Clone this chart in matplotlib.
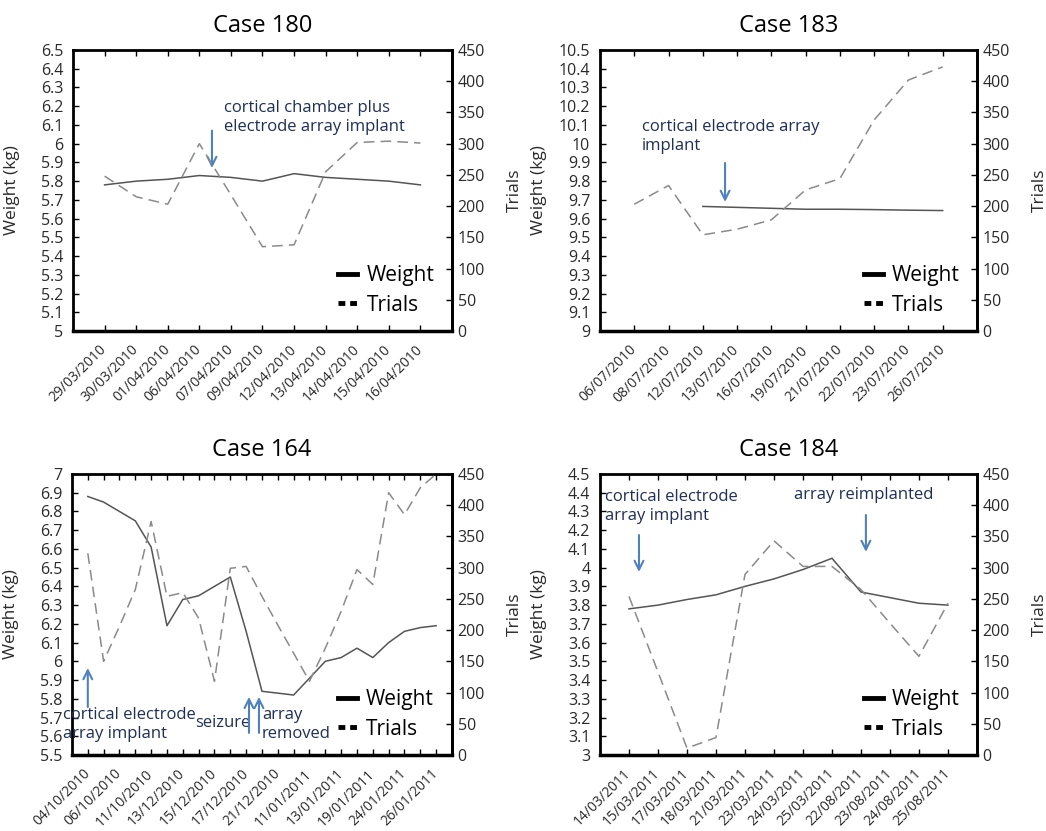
import numpy as np
import matplotlib
matplotlib.use("Agg")
import matplotlib.pyplot as plt
import matplotlib.transforms as mtransforms
from matplotlib.lines import Line2D

plt.rcParams['font.family'] = ['Open Sans', 'DejaVu Sans']

nan = np.nan

# Case 180
dates_180 = ['29/03/2010', '30/03/2010', '01/04/2010', '06/04/2010', '07/04/2010',
             '09/04/2010', '12/04/2010', '13/04/2010', '14/04/2010', '15/04/2010',
             '16/04/2010']
weight_180 = [5.78, 5.80, 5.81, 5.83, 5.82, 5.80, 5.84, 5.82, 5.81, 5.80, 5.78]
trials_180 = [248, 215, 203, 300, 218, 135, 138, 255, 302, 304, 301]

# Case 183
dates_183 = ['06/07/2010', '08/07/2010', '12/07/2010', '13/07/2010', '16/07/2010',
             '19/07/2010', '21/07/2010', '22/07/2010', '23/07/2010', '26/07/2010']
weight_183 = [nan, nan, 9.665, 9.66, 9.655, 9.65, 9.65, 9.648, 9.645, 9.643]
trials_183 = [203, 233, 154, 163, 178, 226, 244, 338, 402, 423]

# Case 164 (every other session date is labelled)
dates_164 = ['04/10/2010', '', '06/10/2010', '', '11/10/2010', '', '13/12/2010', '',
             '15/12/2010', '', '17/12/2010', '', '21/12/2010', '', '11/01/2011', '',
             '13/01/2011', '', '19/01/2011', '', '24/01/2011', '', '26/01/2011']
weight_164 = [6.88, 6.85, 6.80, 6.75, 6.61, 6.19, 6.33, 6.35, 6.40, 6.45, 6.16, 5.84,
              5.83, 5.82, 5.91, 6.00, 6.02, 6.07, 6.02, 6.10, 6.16, 6.18, 6.19]
trials_164 = [323, 150, 206, 265, 374, 254, 260, 219, 118, 299, 302, 254, 208, 163,
              118, 171, 230, 297, 273, 420, 385, 428, 450]

# Case 184
dates_184 = ['14/03/2011', '15/03/2011', '17/03/2011', '18/03/2011', '21/03/2011',
             '23/03/2011', '24/03/2011', '25/03/2011', '22/08/2011', '23/08/2011',
             '24/08/2011', '25/08/2011']
weight_184 = [3.78, 3.80, 3.83, 3.855, 3.90, 3.94, 3.99, 4.05, 3.87, 3.84, 3.81, 3.80]
trials_184 = [254, 133, 11, 28, 289, 343, 302, 302, 265, 211, 158, 243]

NOTE_COLOR = '#1f2f55'
ARROW_COLOR = '#4f81bd'
TEXT_COLOR = '#2a2a2a'


def plot_case(fig, rect, title, dates, weight, trials, ylim, notes, arrows):
    ax = fig.add_axes(rect)
    ax2 = ax.twinx()
    x = np.arange(len(dates))

    ax.plot(x, weight, color='#555555', lw=1.1, zorder=3)
    ax2.plot(x, trials, color='#8a8a8a', lw=1.1, dashes=(7, 4))

    ax.set_xlim(-1, len(dates))
    ax.set_ylim(*ylim)
    ax.set_yticks(np.round(np.arange(ylim[0], ylim[1] + 0.05, 0.1), 1))
    ax.set_yticklabels(['{:g}'.format(v) for v in ax.get_yticks()])
    ax2.set_ylim(0, 450)
    ax2.set_yticks(range(0, 451, 50))

    # rotated date labels sit a little to the left of their tick
    ax.set_xticks(x)
    ax.set_xticklabels(dates, rotation=45, ha='right', va='center',
                       rotation_mode='anchor', fontsize=10, color=TEXT_COLOR)
    shift = mtransforms.ScaledTranslation(-19 / 100, -9 / 100, fig.dpi_scale_trans)
    for lab in ax.get_xticklabels():
        lab.set_transform(lab.get_transform() + shift)

    ax.tick_params(axis='x', direction='in', length=4, width=1, top=True, pad=12)
    ax.tick_params(axis='y', direction='in', length=4, width=1, pad=7,
                   labelsize=11.5, labelcolor=TEXT_COLOR)
    ax2.tick_params(axis='y', direction='in', length=4, width=1, pad=4,
                    labelsize=11.5, labelcolor=TEXT_COLOR)

    for s in ax.spines.values():
        s.set_linewidth(2)
    ax.spines['bottom'].set_linewidth(2.5)
    for side in ['left', 'top', 'bottom']:
        ax2.spines[side].set_visible(False)
    ax2.spines['right'].set_linewidth(2)

    ax.set_ylabel('Weight (kg)', fontsize=12.5, color=TEXT_COLOR)
    ax.yaxis.set_label_coords(-0.14, 0.5)
    ax2.set_ylabel('Trials', fontsize=12.5, color=TEXT_COLOR)
    ax2.yaxis.set_label_coords(1.145, 0.5)
    ax.set_title(title, fontsize=17, pad=13)

    for text, tx, ty in notes:
        ax.text(tx, ty, text, color=NOTE_COLOR, fontsize=12, va='center',
                ha='left', linespacing=1.25, zorder=6, clip_on=False)
    for ax_x, y_tail, y_head in arrows:
        ax.annotate('', xy=(ax_x, y_head), xytext=(ax_x, y_tail),
                    arrowprops=dict(arrowstyle='->', color=ARROW_COLOR, lw=1.5,
                                    mutation_scale=16, shrinkA=0, shrinkB=0),
                    zorder=6)

    handles = [Line2D([], [], color='black', lw=3.5),
               Line2D([], [], color='black', lw=3.5, dashes=(1.4, 1.0))]
    ax2.legend(handles, ['Weight', 'Trials'], loc='upper left',
               bbox_to_anchor=(0.70, 0.234), frameon=False, fontsize=15,
               handlelength=0.9, handletextpad=0.45, labelspacing=0.4,
               borderpad=0, borderaxespad=0)
    return ax


fig = plt.figure(figsize=(10.46, 8.31), dpi=100)

plot_case(fig, [0.0698, 0.6017, 0.3623, 0.3381], 'Case 180', dates_180,
          weight_180, trials_180, (5, 6.5),
          [('cortical chamber plus\nelectrode array implant', 3.78, 6.142)],
          [(3.4, 6.07, 5.87)])

plot_case(fig, [0.5736, 0.6017, 0.3604, 0.3381], 'Case 183', dates_183,
          weight_183, trials_183, (9, 10.5),
          [('cortical electrode array\nimplant', 0.225, 10.041)],
          [(2.65, 9.897, 9.689)])

plot_case(fig, [0.0688, 0.0915, 0.3633, 0.3381], 'Case 164', dates_164,
          weight_164, trials_164, (5.5, 7),
          [('cortical electrode\narray implant', -1.57, 5.66),
           ('seizure', 6.77, 5.671),
           ('array\nremoved', 11.0, 5.66)],
          [(0.0, 5.756, 5.964), (10.18, 5.618, 5.81), (10.81, 5.618, 5.81)])

plot_case(fig, [0.5736, 0.0915, 0.3604, 0.3381], 'Case 184', dates_184,
          weight_184, trials_184, (3, 4.5),
          [('cortical electrode\narray implant', -0.83, 4.329),
           ('array reimplanted', 5.69, 4.388)],
          [(0.345, 4.174, 3.977), (8.17, 4.281, 4.084)])

fig.savefig('out.png', dpi=100)
